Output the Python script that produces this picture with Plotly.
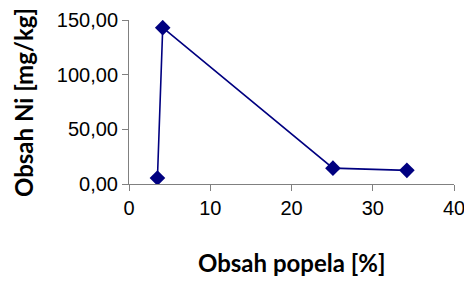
import plotly.graph_objects as go

x_popel = [3.5, 4.15, 25.1, 34.2]
y_ni = [5.5, 143.0, 14.5, 12.5]
y_ticks = [0, 50, 100, 150]
y_labels = ["0,00", "50,00", "100,00", "150,00"]
x_ticks = [0, 10, 20, 30, 40]
x_title = "Obsah popela [%]"
y_title = "Obsah Ni [mg/kg]"

fig = go.Figure()
fig.add_trace(go.Scatter(
    x=x_popel, y=y_ni, mode="lines+markers",
    line=dict(color="#000080", width=1.6),
    marker=dict(symbol="diamond", size=12, color="#000080"),
    showlegend=False,
))
axis_common = dict(showgrid=False, zeroline=False, showline=True, automargin=False,
                   linecolor="#808080", linewidth=1, ticks="outside",
                   tickcolor="#808080", ticklen=6,
                   tickfont=dict(family="Liberation Sans, Arial", size=20, color="black"))
title_font = dict(family="Lato, Open Sans", size=24, color="black")
# page body has an 8px default margin, so the figure is 8px smaller and margins shifted
fig.update_layout(
    width=464, height=276,
    margin=dict(l=121, r=18, t=12, b=100),
    paper_bgcolor="white", plot_bgcolor="white",
    xaxis=dict(range=[0, 40], tickvals=x_ticks, **axis_common),
    yaxis=dict(range=[0, 150], tickvals=y_ticks, ticktext=y_labels, **axis_common),
    annotations=[
        dict(text="<b>" + x_title + "</b>", xref="paper", yref="paper",
             x=(291 - 129) / 325, y=(184 - 262) / 164, showarrow=False,
             xanchor="center", yanchor="middle", font=title_font),
        dict(text="<b>" + y_title + "</b>", xref="paper", yref="paper",
             x=(23 - 129) / 325, y=(184 - 103) / 164, showarrow=False, textangle=-90,
             xanchor="center", yanchor="middle", font=title_font),
    ],
)
fig.write_html("out.html")
